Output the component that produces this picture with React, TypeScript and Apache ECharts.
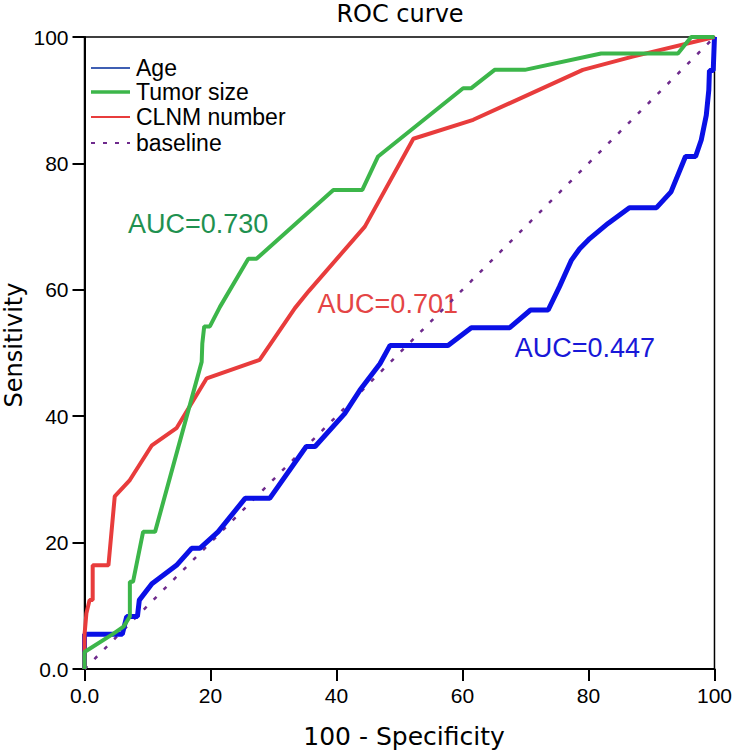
import React, { useEffect, useRef } from "react";
import * as echarts from "echarts";

const ageData: number[][] = [
  [0, 0], [0, 5.5], [6.0, 5.5], [6.7, 8.3], [8.4, 8.3], [8.7, 10.9], [10.7, 13.5], [14.6, 16.4],
  [17.0, 19.1], [18.3, 19.1], [21.2, 21.7], [25.5, 27.0], [29.4, 27.0], [35.2, 35.2], [36.6, 35.2],
  [41.3, 40.4], [43.7, 44.1], [46.9, 48.3], [48.5, 51.2], [57.7, 51.2], [61.4, 54.0], [67.5, 54.0],
  [70.8, 56.8], [73.6, 56.8], [75.4, 60.5], [77.3, 64.7], [78.6, 66.5], [80.2, 68.1], [83.1, 70.5],
  [86.5, 73.0], [90.8, 73.0], [93.1, 75.5], [95.4, 81.1], [97.0, 81.1], [97.9, 83.7], [98.7, 87.6],
  [99.1, 91.6], [99.2, 94.7], [99.8, 94.7], [100, 100],
];

const tumorData: number[][] = [
  [0, 0], [0, 2.7], [4.6, 5.6], [6.2, 6.7], [7.2, 8.3], [7.2, 13.8], [7.7, 13.8], [9.3, 21.7],
  [11.2, 21.7], [18.6, 48.6], [18.7, 51.5], [19.0, 54.2], [19.9, 54.2], [21.5, 57.3], [26.0, 64.9],
  [27.3, 64.9], [39.5, 75.8], [44.1, 75.8], [46.6, 81.1], [60.1, 91.9], [61.4, 91.9], [65.1, 94.8],
  [69.9, 94.8], [82.0, 97.4], [94.2, 97.4], [96.3, 100], [100, 100],
];

const clnmData: number[][] = [
  [0, 0], [0, 5.4], [0.3, 8.8], [0.8, 10.9], [1.3, 10.9], [1.3, 16.4], [3.8, 16.4], [4.8, 27.3],
  [7.2, 29.9], [10.7, 35.4], [14.6, 38.1], [19.4, 46.0], [27.8, 48.9], [33.4, 57.1], [35.6, 59.8],
  [44.5, 70.0], [52.2, 83.9], [61.7, 86.9], [79.1, 94.8], [87.0, 96.9], [100, 100],
];

const baselineData: number[][] = [[0, 0], [100, 100]];

const seriesNames = ["Age", "Tumor size", "CLNM number", "baseline"];
const aucLabels = [
  { text: "AUC=0.730", x: 6.9, y: 70.7, color: "#1f9150" },
  { text: "AUC=0.701", x: 37.0, y: 58.1, color: "#e44545" },
  { text: "AUC=0.447", x: 68.3, y: 51.1, color: "#1818d8" },
];

const BLUE = "#0a10e6";
const GREEN = "#3cb64a";
const RED = "#e83c3c";
const PURPLE = "#6e2a8c";
const FONT = "Liberation Sans, Arial, sans-serif";

export default function App() {
  const ref = useRef<HTMLDivElement>(null);
  useEffect(() => {
    if (!ref.current) return;
    const chart = echarts.init(ref.current, undefined, { renderer: "svg" });
    const fmt = (v: number) => (v === 0 ? "0.0" : String(v));
    const axisCommon = {
      type: "value" as const,
      min: 0,
      max: 100,
      interval: 20,
      splitLine: { show: false },
      axisLine: { show: true, lineStyle: { color: "#000", width: 2 } },
      axisTick: { show: true, inside: false, length: 12, lineStyle: { color: "#000", width: 2 } },
      axisLabel: { color: "#000", fontSize: 21, fontFamily: FONT, margin: 16, formatter: fmt },
    };
    chart.setOption({
      animation: false,
      backgroundColor: "#fff",
      grid: {
        left: 84.5, right: 20, top: 37, bottom: 82,
        show: true, borderColor: "#000", borderWidth: 1.5, backgroundColor: "transparent",
      },
      xAxis: { ...axisCommon },
      yAxis: { ...axisCommon },
      series: [
        {
          name: seriesNames[3], type: "line", data: baselineData, symbol: "none",
          lineStyle: { color: PURPLE, width: 2.5, type: [4, 10] }, itemStyle: { color: PURPLE },
        },
        {
          name: seriesNames[0], type: "line", data: ageData, symbol: "none",
          lineStyle: { color: BLUE, width: 5 }, itemStyle: { color: BLUE },
        },
        {
          name: seriesNames[2], type: "line", data: clnmData, symbol: "none",
          lineStyle: { color: RED, width: 4 }, itemStyle: { color: RED },
        },
        {
          name: seriesNames[1], type: "line", data: tumorData, symbol: "none",
          lineStyle: { color: GREEN, width: 4 }, itemStyle: { color: GREEN },
        },
      ],
    });
    const labels = aucLabels.map((l) => {
      const p = chart.convertToPixel({ gridIndex: 0 }, [l.x, l.y]) as number[];
      return {
        type: "text", x: p[0], y: p[1] + 2,
        style: { text: l.text, fill: l.color, font: `27px ${FONT}`, textAlign: "left", textVerticalAlign: "middle" },
      };
    });
    const legendStyles = [
      { stroke: "#3f5fb3", lineWidth: 2 },
      { stroke: GREEN, lineWidth: 3.5 },
      { stroke: RED, lineWidth: 2 },
      { stroke: PURPLE, lineWidth: 2, lineDash: [4, 8] },
    ];
    const legendOrder = [0, 1, 2, 3];
    const rowY = [68, 92, 117, 143];
    const legendItems: any[] = [];
    legendOrder.forEach((si, i) => {
      legendItems.push({
        type: "line", shape: { x1: 91, y1: rowY[i], x2: 130, y2: rowY[i] },
        style: legendStyles[i],
      });
      legendItems.push({
        type: "text", x: 136, y: rowY[i],
        style: { text: seriesNames[si], fill: "#000", font: `23px ${FONT}`, textAlign: "left", textVerticalAlign: "middle" },
      });
    });
    chart.setOption({
      graphic: [
        ...labels,
        ...legendItems,
        {
          type: "text", x: 400, y: 14,
          style: { text: "ROC curve", fill: "#000", font: "24px DejaVu Sans, sans-serif", textAlign: "center", textVerticalAlign: "middle" },
        },
        {
          type: "text", x: 404, y: 736,
          style: { text: "100 - Specificity", fill: "#000", font: "25px DejaVu Sans, sans-serif", textAlign: "center", textVerticalAlign: "middle" },
        },
        {
          type: "text", x: 14, y: 345, rotation: Math.PI / 2,
          style: { text: "Sensitivity", fill: "#000", font: "24px DejaVu Sans, sans-serif", textAlign: "center", textVerticalAlign: "middle" },
        },
      ],
    });
    return () => chart.dispose();
  }, []);
  return (
    <div
      ref={ref}
      style={{ position: "fixed", left: 0, top: 0, width: 735, height: 751, background: "#fff" }}
    />
  );
}
